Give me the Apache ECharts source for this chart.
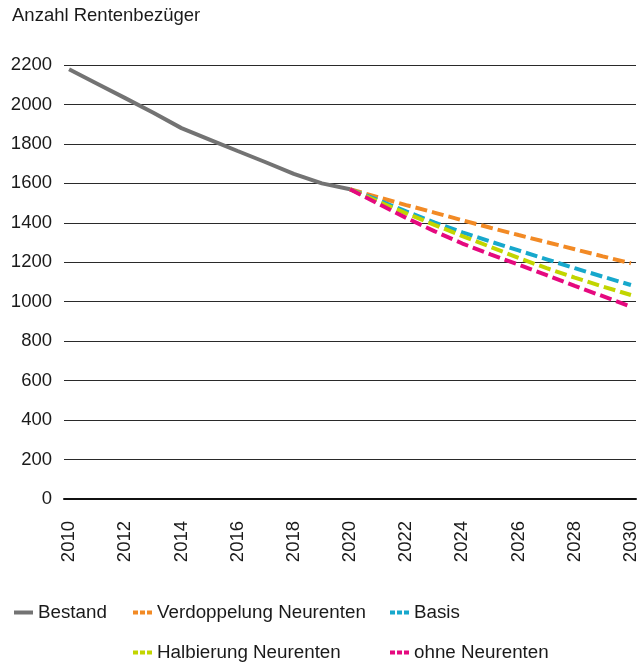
<!DOCTYPE html>
<html>
<head>
<meta charset="utf-8">
<script src="https://cdn.jsdelivr.net/npm/echarts@6/dist/echarts.min.js"></script>
<style>
  html, body { margin: 0; padding: 0; background: #fff; }
  #chart { width: 644px; height: 662px; }
</style>
</head>
<body>
<div id="chart"></div>
<script>
// Daten
var yearsBestand = [2010, 2011, 2012, 2013, 2014, 2015, 2016, 2017, 2018, 2019, 2020];
var bestand = [2178, 2105, 2032, 1958, 1880, 1822, 1764, 1707, 1648, 1600, 1570];

var yearsPrognose = [2020, 2021, 2022, 2023, 2024, 2025, 2026, 2027, 2028, 2029, 2030];
var verdoppelung = [1570, 1530, 1490, 1452, 1413, 1375, 1338, 1302, 1266, 1230, 1195];
var basis = [1570, 1515, 1458, 1402, 1352, 1305, 1260, 1215, 1170, 1127, 1085];
var halbierung = [1570, 1508, 1448, 1390, 1333, 1278, 1222, 1170, 1122, 1077, 1034];
var ohneNeurenten = [1570, 1497, 1425, 1358, 1295, 1240, 1188, 1135, 1080, 1028, 975];

var xTicks = [2010, 2012, 2014, 2016, 2018, 2020, 2022, 2024, 2026, 2028, 2030];

var fontFam = '"Liberation Sans", Arial, Helvetica, sans-serif';
var fs = 18.5;

function pairs(xs, ys) {
    return xs.map(function (x, i) { return [x, ys[i]]; });
}

var myChart = echarts.init(document.getElementById('chart'));

var dashed = [12, 5];
var dashIcon = 'path://M0,0h5v4h-5zM7,0h5v4h-5zM14,0h5v4h-5z';

function scenario(name, color, ys) {
    return {
        name: name,
        type: 'line',
        data: pairs(yearsPrognose, ys),
        symbol: 'none',
        lineStyle: { color: color, width: 4, type: dashed, cap: 'butt' },
        itemStyle: { color: color }
    };
}

var legendText = { fontSize: 18.8, fontFamily: fontFam, color: '#1a1a1a' };

// eine Legende pro Eintrag, damit die Spalten wie im Original sitzen
function legendAt(name, left, top, icon) {
    return {
        left: left,
        top: top,
        itemWidth: 19,
        itemHeight: 4,
        icon: icon,
        textStyle: legendText,
        data: [name]
    };
}

var option = {
    animation: false,
    title: {
        text: 'Anzahl Rentenbezüger',
        left: 7,
        top: 1,
        textStyle: { fontSize: fs, fontWeight: 'normal', fontFamily: fontFam, color: '#1a1a1a' }
    },
    grid: { left: 64, right: 8, top: 65, bottom: 163 },
    xAxis: {
        type: 'value',
        min: 2009.82,
        max: 2030.18,
        splitLine: { show: false },
        axisTick: { show: false },
        axisLine: { show: true, lineStyle: { color: '#111', width: 2 } },
        axisLabel: {
            customValues: xTicks,
            rotate: 90,
            margin: 22,
            fontSize: fs,
            fontFamily: fontFam,
            color: '#1a1a1a',
            formatter: function (v) { return String(v); }
        }
    },
    yAxis: {
        type: 'value',
        min: 0,
        max: 2200,
        interval: 200,
        axisLine: { show: false },
        axisTick: { show: false },
        splitLine: { lineStyle: { color: '#2a2a2a', width: 1 } },
        axisLabel: {
            margin: 12,
            fontSize: fs,
            fontFamily: fontFam,
            color: '#1a1a1a',
            formatter: function (v) { return String(v); }
        }
    },
    legend: [
        legendAt('Bestand', 9, 598, 'rect'),
        legendAt('Verdoppelung Neurenten', 128, 598, dashIcon),
        legendAt('Basis', 385, 598, dashIcon),
        legendAt('Halbierung Neurenten', 128, 638, dashIcon),
        legendAt('ohne Neurenten', 385, 638, dashIcon)
    ],
    series: [
        {
            name: 'Bestand',
            type: 'line',
            data: pairs(yearsBestand, bestand),
            symbol: 'none',
            z: 3,
            lineStyle: { color: '#737373', width: 4 },
            itemStyle: { color: '#737373' }
        },
        scenario('Verdoppelung Neurenten', '#f28a25', verdoppelung),
        scenario('Basis', '#17a8cc', basis),
        scenario('Halbierung Neurenten', '#c2d500', halbierung),
        scenario('ohne Neurenten', '#e5097f', ohneNeurenten)
    ]
};

myChart.setOption(option);
</script>
</body>
</html>
